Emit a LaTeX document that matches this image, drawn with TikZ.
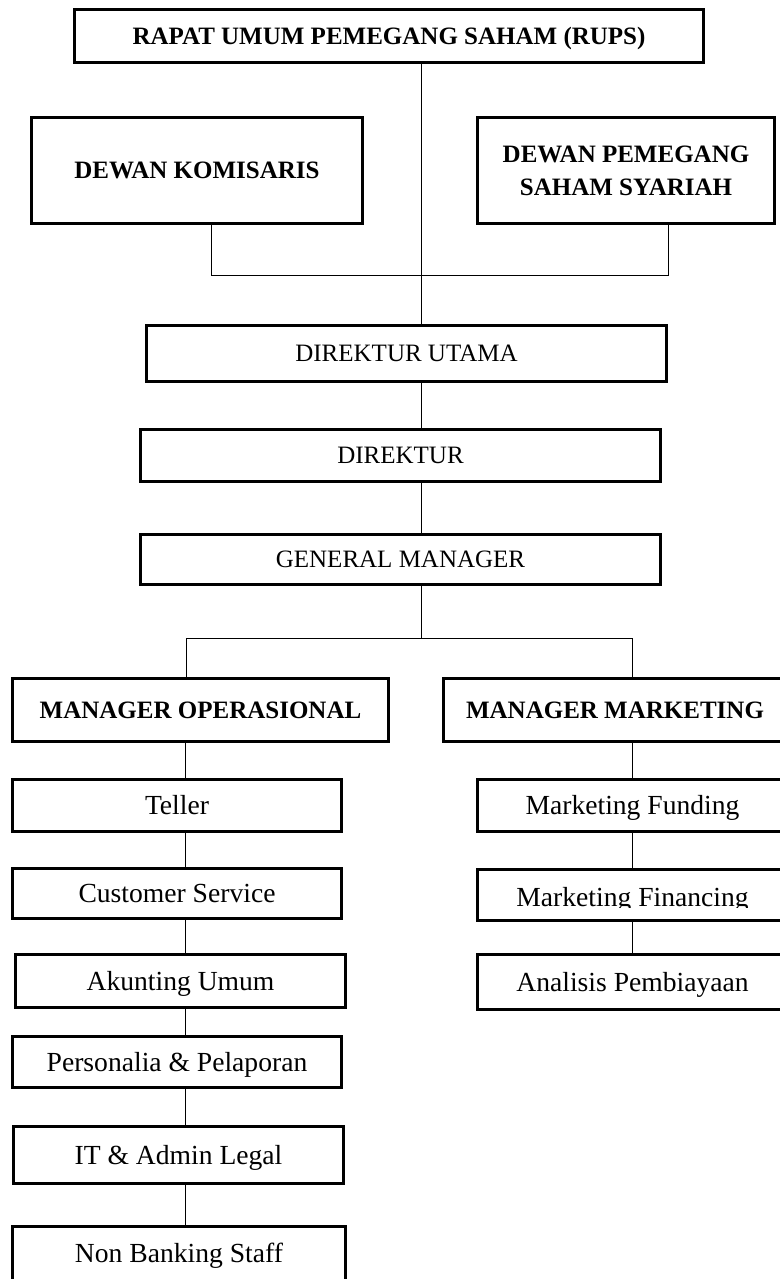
\documentclass[tikz,border=0pt]{standalone}
\usepackage{fontspec}
\setmainfont{Liberation Serif}
\begin{document}
\begin{tikzpicture}[x=1pt,y=-1pt]
\useasboundingbox (0,0) rectangle (779,1279);
\tikzset{
  box/.style={draw, line width=3.2pt, inner sep=0pt, align=center},
  big/.style={box, font=\fontsize{25}{33}\selectfont, text height=16.5pt, text depth=0pt},
  bigb/.style={big, font=\fontsize{25}{33}\selectfont\bfseries},
  small/.style={box, font=\fontsize{27.6}{33}\selectfont, text height=18.3pt, text depth=0pt},
  plain/.style={inner sep=0pt, font=\fontsize{27.6}{33}\selectfont, text height=18.3pt, text depth=0pt},
  conn/.style={line width=1pt}
}
% top level
\node[bigb, minimum width=629pt, minimum height=53pt] (rups) at (389,36) {RAPAT UMUM PEMEGANG SAHAM (RUPS)};
\node[bigb, minimum width=331pt, minimum height=106pt] (dk) at (197,170.5) {DEWAN KOMISARIS};
\node[bigb, minimum width=297pt, minimum height=106pt, text height=49.5pt] (dp) at (626,170.5) {DEWAN PEMEGANG\\SAHAM SYARIAH};
\node[big, minimum width=520pt, minimum height=56pt] (du) at (406.5,353.5) {DIREKTUR UTAMA};
\node[big, minimum width=520pt, minimum height=52pt] (dir) at (400.5,455.5) {DIREKTUR};
\node[big, minimum width=520pt, minimum height=50pt] (gm) at (400.5,559.5) {GENERAL MANAGER};
\node[bigb, minimum width=376pt, minimum height=63pt] (mo) at (200.5,710) {MANAGER OPERASIONAL};
\node[bigb, minimum width=343pt, minimum height=63pt] (mm) at (615,710) {MANAGER MARKETING};
% left chain
\node[small, minimum width=329pt, minimum height=52pt] (teller) at (177,805.5) {Teller};
\node[small, minimum width=329pt, minimum height=50pt] (cs) at (177,893.5) {Customer Service};
\node[small, minimum width=330pt, minimum height=53pt] (au) at (180.5,981) {Akunting Umum};
\node[small, minimum width=329pt, minimum height=51pt] (pp) at (177,1062) {Personalia \& Pelaporan};
\node[small, minimum width=330pt, minimum height=57pt] (it) at (178.5,1155) {IT \& Admin Legal};
\node[small, minimum width=333pt, minimum height=54pt] (nbs) at (179,1253.5) {Non Banking Staff};
% right chain
\node[small, minimum width=310pt, minimum height=52pt] (mf) at (632.5,805.5) {Marketing Funding};
\node[small, minimum width=310pt, minimum height=51pt] (mfin) at (632.5,895) {};
\begin{scope}
  \clip (470,860) rectangle (790,907.5);
  \node[plain] (mfintext) at (632.5,897.5) {Marketing Financing};
\end{scope}
\node[small, minimum width=310pt, minimum height=55pt] (ap) at (632.5,982) {Analisis Pembiayaan};
% connectors
\coordinate (cx) at (421,0);
\draw[conn] (rups.south -| cx) -- (du.north -| cx);
\coordinate (dkx) at (211,275);
\coordinate (dpx) at (668,275);
\draw[conn] (dk.south -| dkx) -- (dkx) -- (dpx) -- (dp.south -| dpx);
\draw[conn] (du.south -| cx) -- (dir.north -| cx);
\draw[conn] (dir.south -| cx) -- (gm.north -| cx);
\coordinate (br) at (421,638);
\coordinate (bl) at (186,638);
\coordinate (brr) at (632,638);
\draw[conn] (gm.south -| br) -- (br);
\draw[conn] (mo.north -| bl) -- (bl) -- (brr) -- (mm.north -| brr);
\coordinate (lx) at (185,0);
\draw[conn] (mo.south -| lx) -- (teller.north -| lx);
\draw[conn] (teller.south -| lx) -- (cs.north -| lx);
\draw[conn] (cs.south -| lx) -- (au.north -| lx);
\draw[conn] (au.south -| lx) -- (pp.north -| lx);
\draw[conn] (pp.south -| lx) -- (it.north -| lx);
\draw[conn] (it.south -| lx) -- (nbs.north -| lx);
\coordinate (rx) at (632,0);
\draw[conn] (mm.south -| rx) -- (mf.north -| rx);
\draw[conn] (mf.south -| rx) -- (mfin.north -| rx);
\draw[conn] (mfin.south -| rx) -- (ap.north -| rx);
\end{tikzpicture}
\end{document}
